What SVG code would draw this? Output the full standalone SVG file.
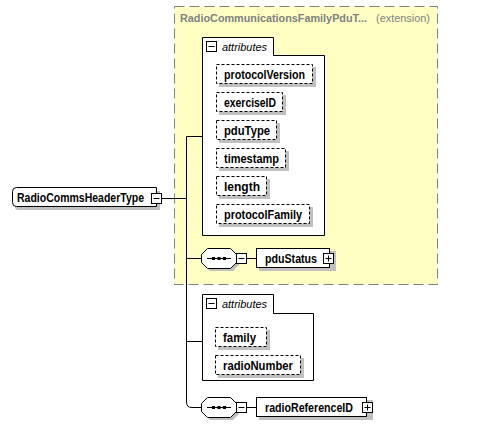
<svg xmlns="http://www.w3.org/2000/svg" width="479" height="427" viewBox="0 0 479 427">
<style>
.t{font-family:"Liberation Sans",Arial,sans-serif;font-size:12px;font-weight:bold;fill:#000}
.ti{font-family:"Liberation Sans",Arial,sans-serif;font-size:11.5px;font-style:italic;fill:#000}
.g{font-family:"Liberation Sans",Arial,sans-serif;font-size:11.5px;fill:#808080}
.sh{fill:#c0c0c0}
.box{fill:#fff;stroke:#000;stroke-width:1}
.att{fill:#fff;stroke:#000;stroke-width:1;stroke-dasharray:3,2}
.ln{fill:none;stroke:#000;stroke-width:1}
.pm{fill:#fff;stroke:#000;stroke-width:1}
</style>
<defs>
<g id="minus"><rect class="pm" x="0.5" y="0.5" width="10" height="10"/><line class="ln" x1="2.5" y1="5.5" x2="8.5" y2="5.5"/></g>
<g id="plus"><rect class="pm" x="0.5" y="0.5" width="10" height="10"/><line class="ln" x1="2.5" y1="5.5" x2="8.5" y2="5.5"/><line class="ln" x1="5.5" y1="2.5" x2="5.5" y2="8.5"/></g>
<g id="seq">
<path class="sh" d="M9,3 H32 L38,9 V17 L32,23 H9 L3,17 V9 Z"/>
<path d="M6.5,0.5 H29.5 L35.5,6.5 V14.5 L29.5,20.5 H6.5 L0.5,14.5 V6.5 Z" fill="#fff" stroke="#000"/>
<line class="ln" x1="6" y1="10.5" x2="30" y2="10.5"/>
<rect x="11" y="9" width="3" height="3" fill="#000"/><rect x="16.5" y="9" width="3" height="3" fill="#000"/><rect x="22" y="9" width="3" height="3" fill="#000"/>
</g>
</defs>

<g id="extension">
<rect x="174.5" y="6.5" width="263" height="278" fill="#ffffc4" stroke="#808080" stroke-dasharray="10,5"/>
<text class="g" x="180" y="21.5" font-weight="bold" textLength="187" lengthAdjust="spacingAndGlyphs">RadioCommunicationsFamilyPduT...</text>
<text class="g" x="376" y="21.5" textLength="54" lengthAdjust="spacingAndGlyphs">(extension)</text>
</g>

<g id="connectors">
<line class="ln" x1="162" y1="198.5" x2="186.5" y2="198.5"/>
<path class="ln" d="M202,136.5 H186.5 V402 Q186.5,407.5 192,407.5 H201"/>
<line class="ln" x1="186.5" y1="258.5" x2="201" y2="258.5"/>
<line class="ln" x1="186.5" y1="341.5" x2="202" y2="341.5"/>
<line class="ln" x1="246" y1="258.5" x2="256" y2="258.5"/>
<line class="ln" x1="246" y1="407.5" x2="256" y2="407.5"/>
</g>

<g id="RadioCommsHeaderType">
<path class="sh" d="M18,191 H160 V210 H18 Q15,210 15,207 V194 Q15,191 18,191 Z"/>
<path d="M16.5,187.5 H156.5 V206.5 H16.5 Q12.5,206.5 12.5,202.5 V191.5 Q12.5,187.5 16.5,187.5 Z" fill="#fff" stroke="#000"/>
<text class="t" x="17" y="201.5" textLength="127" lengthAdjust="spacingAndGlyphs">RadioCommsHeaderType</text>
<use href="#minus" x="151" y="193"/>
</g>

<g id="attributes1">
<path class="box" d="M202.5,37.5 H273.5 V55.5 H324.5 V235.5 H202.5 Z"/>
<use href="#minus" x="206" y="41"/>
<text class="ti" x="222" y="51" textLength="45" lengthAdjust="spacingAndGlyphs">attributes</text>
</g>
<g id="protocolVersion"><rect class="sh" x="219" y="67" width="97" height="20"/><rect class="att" x="216.5" y="64.5" width="96" height="19"/><text class="t" x="224" y="78.5" textLength="81" lengthAdjust="spacingAndGlyphs">protocolVersion</text></g>
<g id="exerciseID"><rect class="sh" x="219" y="95" width="67" height="20"/><rect class="att" x="216.5" y="92.5" width="66" height="19"/><text class="t" x="224" y="106.5" textLength="52" lengthAdjust="spacingAndGlyphs">exerciseID</text></g>
<g id="pduType"><rect class="sh" x="219" y="123" width="61" height="20"/><rect class="att" x="216.5" y="120.5" width="60" height="19"/><text class="t" x="224" y="134.5" textLength="46" lengthAdjust="spacingAndGlyphs">pduType</text></g>
<g id="timestamp"><rect class="sh" x="219" y="151" width="70" height="20"/><rect class="att" x="216.5" y="148.5" width="69" height="19"/><text class="t" x="224" y="162.5" textLength="55" lengthAdjust="spacingAndGlyphs">timestamp</text></g>
<g id="length"><rect class="sh" x="219" y="179" width="51" height="20"/><rect class="att" x="216.5" y="176.5" width="50" height="19"/><text class="t" x="224" y="190.5" textLength="36" lengthAdjust="spacingAndGlyphs">length</text></g>
<g id="protocolFamily"><rect class="sh" x="219" y="207" width="94" height="20"/><rect class="att" x="216.5" y="204.5" width="93" height="19"/><text class="t" x="224" y="218.5" textLength="78" lengthAdjust="spacingAndGlyphs">protocolFamily</text></g>

<g id="seq1"><use href="#seq" x="201" y="248"/><use href="#minus" x="236" y="253"/></g>
<g id="pduStatus">
<rect class="sh" x="259" y="251" width="77" height="20"/>
<rect class="box" x="256.5" y="248.5" width="73" height="19"/>
<text class="t" x="265" y="262.5" textLength="52" lengthAdjust="spacingAndGlyphs">pduStatus</text>
<use href="#plus" x="323" y="253"/>
</g>

<g id="attributes2">
<path class="box" d="M202.5,294.5 H273.5 V313.5 H313.5 V380.5 H202.5 Z"/>
<use href="#minus" x="206" y="298"/>
<text class="ti" x="222" y="308" textLength="45" lengthAdjust="spacingAndGlyphs">attributes</text>
</g>
<g id="family"><rect class="sh" x="218" y="330" width="52" height="20"/><rect class="att" x="215.5" y="327.5" width="51" height="19"/><text class="t" x="223" y="341.5" textLength="33" lengthAdjust="spacingAndGlyphs">family</text></g>
<g id="radioNumber"><rect class="sh" x="218" y="358" width="86" height="20"/><rect class="att" x="215.5" y="355.5" width="85" height="19"/><text class="t" x="223" y="369.5" textLength="70" lengthAdjust="spacingAndGlyphs">radioNumber</text></g>

<g id="seq2"><use href="#seq" x="201" y="397"/><use href="#minus" x="236" y="402"/></g>
<g id="radioReferenceID">
<rect class="sh" x="259" y="400" width="114" height="20"/>
<rect class="box" x="256.5" y="397.5" width="110" height="19"/>
<text class="t" x="265" y="411.5" textLength="88" lengthAdjust="spacingAndGlyphs">radioReferenceID</text>
<use href="#plus" x="362" y="402"/>
</g>
</svg>
